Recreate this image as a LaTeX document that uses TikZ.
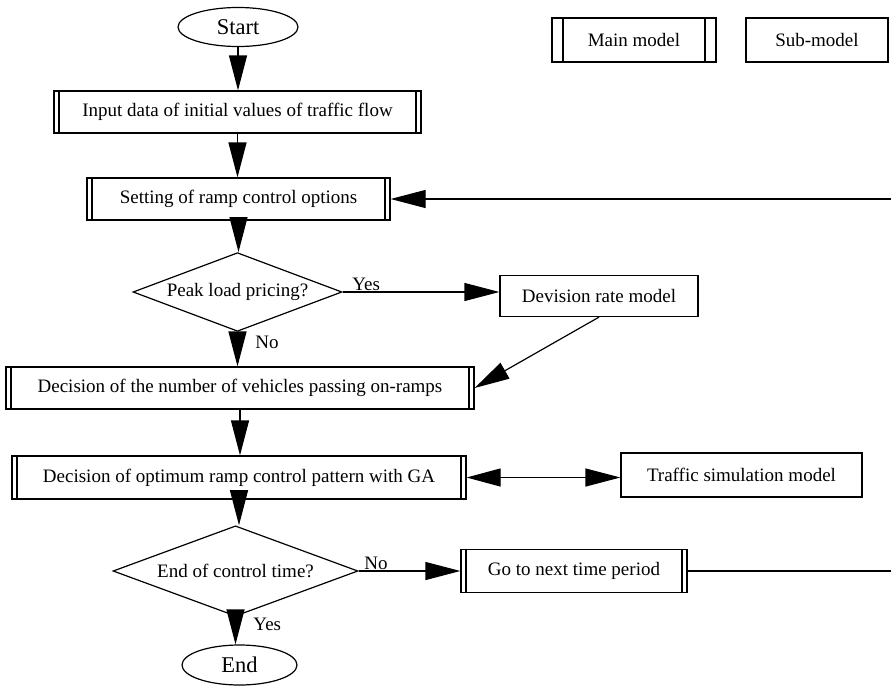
\documentclass[tikz,border=0pt]{standalone}
\usepackage{fontspec}
\setmainfont{Liberation Serif}
\usetikzlibrary{shapes.geometric,arrows.meta}

\begin{document}
\begin{tikzpicture}[x=1pt,y=-1pt]
\tikzstyle{every node} = [font=\fontsize{19}{21}\selectfont]
\tikzstyle{term} = [draw, ellipse, line width=1.2pt, minimum width=120pt, minimum height=39pt, inner sep=0pt, font=\fontsize{22.5}{24}\selectfont]
\tikzstyle{subbox} = [draw, rectangle, line width=1.2pt, minimum height=42pt, inner sep=0pt]
\tikzstyle{ask} = [draw, diamond, line width=1.2pt, inner xsep=-40pt, inner ysep=0pt]
\tikzstyle{flow} = [line width=1.2pt, -{Triangle[length=35pt,width=18pt]}]
\tikzset{mainbox/.style={subbox, path picture={
    \draw[line width=1.2pt] ([xshift=#1]path picture bounding box.north west) -- ([xshift=#1]path picture bounding box.south west)
        ([xshift=-#1]path picture bounding box.north east) -- ([xshift=-#1]path picture bounding box.south east);}},
  mainbox/.default=5pt}
\useasboundingbox (0,0) rectangle (891,688);

% legend
\node[mainbox=11pt, minimum width=164pt, minimum height=44pt] (legmain) at (634,40) {Main model};
\node[subbox, minimum width=142pt, minimum height=44pt] (legsub) at (817,40) {Sub-model};

% main flow
\node[term] (start) at (238,27) {Start};
\node[mainbox, minimum width=367pt] (input) at (237.5,112) {Input data of initial values of traffic flow};
\node[mainbox, minimum width=303pt] (setting) at (238.5,199) {Setting of ramp control options};
\node[ask, minimum width=209pt, minimum height=60pt] (peak) at (237.5,292) {Peak load pricing?};
\node[subbox, minimum width=198pt, minimum height=41pt] (devision) at (599,296) {Devision rate model};
\node[mainbox, minimum width=468pt] (number) at (240,388) {Decision of the number of vehicles passing on-ramps};
\node[mainbox, minimum width=454pt, minimum height=43pt] (ga) at (239,477.5) {Decision of optimum ramp control pattern with GA};
\node[subbox, minimum width=241pt, minimum height=44pt] (traffic) at (741.5,475) {Traffic simulation model};
\node[ask, minimum width=245pt, minimum height=56pt] (endq) at (235.5,571) {End of control time?};
\node[mainbox, minimum width=226pt, minimum height=43pt] (next) at (574,571) {Go to next time period};
\node[term, minimum width=115pt, minimum height=40pt] (end) at (239.5,665) {End};

\coordinate (fb1) at (893,571);
\coordinate (fb2) at (893,199);

% connectors
\draw[flow] (start.south) -- (start.south |- input.north);
\draw[flow] (input.south) -- (input.south |- setting.north);
\draw[flow] (setting.south) -- (setting.south |- peak.north);
\draw[flow] (peak.east) -- node[pos=0.15, above, inner sep=1pt] {Yes} (devision.west |- peak.east);
\draw[flow] (peak.south) -- node[pos=0.29, right=14pt] {No} (peak.south |- number.north);
\draw[flow] (devision.south) -- (number.east);
\draw[flow] (number.south) -- (number.south |- ga.north);
\draw[line width=1.2pt, {Triangle[length=34pt,width=18pt]}-{Triangle[length=35pt,width=18pt]}] (ga.east) -- (traffic.west |- ga.east);
\draw[flow] (ga.south) -- (ga.south |- endq.north);
\draw[flow] (endq.east) -- node[pos=0.17, above, inner sep=1pt] {No} (next.west);
\draw[flow] (endq.south) -- node[pos=0.28, right=14pt] {Yes} (endq.south |- end.north);
\draw[flow] (next.east) -- (fb1) -- (fb2) -- (setting.east);
\end{tikzpicture}
\end{document}
